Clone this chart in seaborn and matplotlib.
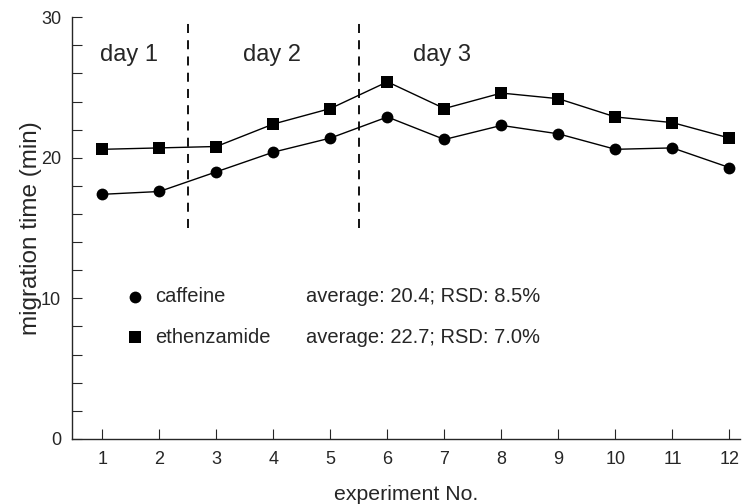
import numpy as np
import pandas as pd
import matplotlib
matplotlib.use("Agg")
import matplotlib.pyplot as plt
import seaborn as sns

# Migration times (min) over twelve runs on three days
experiment = [1, 2, 3, 4, 5, 6, 7, 8, 9, 10, 11, 12]
caffeine = [17.4, 17.6, 19.0, 20.4, 21.4, 22.9, 21.3, 22.3, 21.7, 20.6, 20.7, 19.3]
ethenzamide = [20.6, 20.7, 20.8, 22.4, 23.5, 25.4, 23.5, 24.6, 24.2, 22.9, 22.5, 21.4]
day_labels = ["day 1", "day 2", "day 3"]
day_breaks = [2.5, 5.5]
stats = {"caffeine": "average: 20.4; RSD: 8.5%",
         "ethenzamide": "average: 22.7; RSD: 7.0%"}

df = pd.DataFrame({
    "experiment": experiment * 2,
    "time": caffeine + ethenzamide,
    "compound": ["caffeine"] * len(experiment) + ["ethenzamide"] * len(experiment),
})

sns.set_style("ticks")
plt.rcParams["font.family"] = ["Liberation Sans", "DejaVu Sans"]

fig = plt.figure(figsize=(7.44, 5.04), dpi=100)
ax = fig.add_axes([0.097, 0.129, 0.898, 0.837])

sns.lineplot(data=df, x="experiment", y="time", hue="compound", style="compound",
             markers={"caffeine": "o", "ethenzamide": "s"}, dashes=False,
             palette={"caffeine": "black", "ethenzamide": "black"},
             markersize=8.5, markeredgewidth=0, linewidth=1.0, legend=False, ax=ax)

# day separators
for xb in day_breaks:
    ax.plot([xb, xb], [15, 30], color="black", lw=1.3, ls=(0, (5, 4)), clip_on=False)

for lbl, xc in zip(day_labels, [1.47, 3.98, 6.96]):
    ax.text(xc, 27.3, lbl, ha="center", va="center", fontsize=17)

# key with summary statistics
ax.plot([1.58], [10.1], marker="o", color="black", markersize=8.5, markeredgewidth=0)
ax.plot([1.58], [7.25], marker="s", color="black", markersize=8, markeredgewidth=0)
ax.text(1.93, 10.1, "caffeine", ha="left", va="center", fontsize=14.5)
ax.text(1.93, 7.25, "ethenzamide", ha="left", va="center", fontsize=14.5)
ax.text(4.57, 10.1, stats["caffeine"], ha="left", va="center", fontsize=14.5)
ax.text(4.57, 7.25, stats["ethenzamide"], ha="left", va="center", fontsize=14.5)

ax.set_xlim(0.47, 12.19)
ax.set_ylim(0, 30)
ax.set_xticks(experiment)
ax.set_yticks([0, 10, 20, 30])
ax.set_yticks(np.arange(2, 30, 2), minor=True)
ax.tick_params(axis="both", which="both", direction="in", labelsize=13, width=0.8)
ax.tick_params(axis="y", which="major", length=7, pad=8)
ax.tick_params(axis="y", which="minor", length=7)
ax.tick_params(axis="x", which="major", length=7, pad=9)

ax.set_xlabel("experiment No.", fontsize=15.3, labelpad=12)
ax.set_ylabel("migration time (min)", fontsize=17.5, labelpad=-1)

sns.despine(ax=ax)
for s in ["left", "bottom"]:
    ax.spines[s].set_linewidth(1.0)

fig.savefig("out.png", dpi=100)
